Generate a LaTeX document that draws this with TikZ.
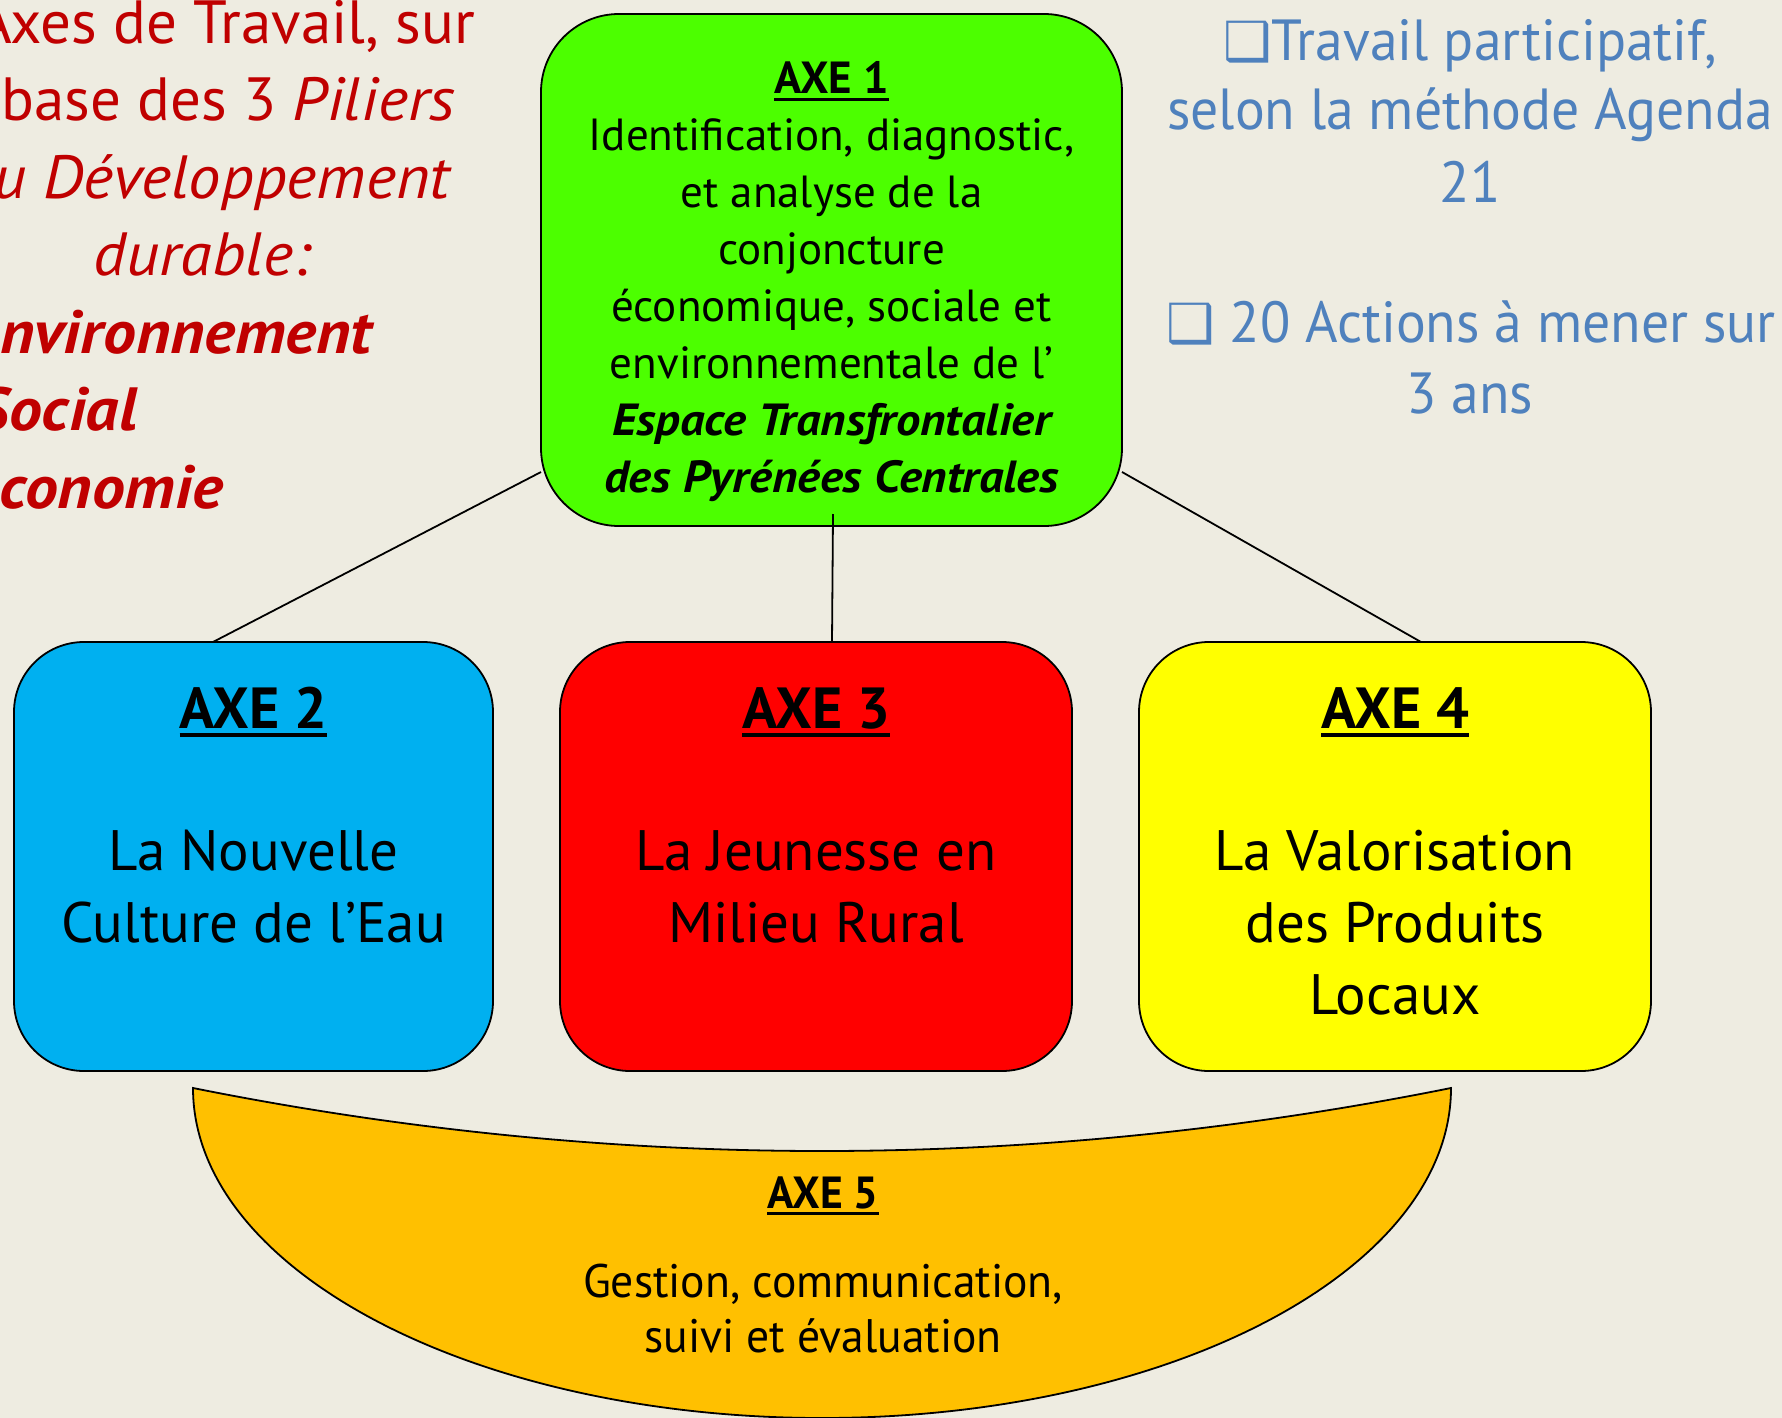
\documentclass[tikz,border=0pt]{standalone}
\usepackage{fontspec}
\setmainfont{PT Sans}[ItalicFeatures={FakeStretch=1.06}, BoldItalicFeatures={FakeStretch=1.08}]
\newfontfamily\bluefont{PT Sans}[FakeStretch=0.96]
\newfontfamily\bowlfont{PT Sans}[FakeStretch=0.97]
\newfontfamily\symfont{DejaVu Sans}
\definecolor{bgc}{HTML}{EEECE1}
\definecolor{greenbox}{HTML}{4CFF00}
\definecolor{bluebox}{HTML}{00B0F0}
\definecolor{redbox}{HTML}{FF0000}
\definecolor{yellowbox}{HTML}{FFFF00}
\definecolor{orangebox}{HTML}{FFC000}
\definecolor{darkred}{HTML}{C00000}
\definecolor{bluetext}{HTML}{4F81BD}
\newcommand\ulbox[1]{\setbox0=\hbox{#1}\rlap{\rule[-0.16em]{\wd0}{0.07em}}\box0}
\begin{document}
\begin{tikzpicture}[x=1pt,y=-1pt,
  axbox/.style={draw=black, line width=1.8pt, inner sep=0pt, outer sep=0pt, rounded corners=70pt},
  txt/.style={inner sep=0pt, outer sep=0pt, anchor=base, text=black},
  conn/.style={draw=black, line width=1.8pt},
  redtxt/.style={inner sep=0pt, outer sep=0pt, text=darkred, font=\fontsize{61}{77}\selectfont},
  bluetxt/.style={inner sep=0pt, outer sep=0pt, anchor=base, text=bluetext, font=\bluefont\fontsize{58}{70}\selectfont},
  bodyA/.style={txt, font=\fontsize{45}{57}\selectfont},
  bodyB/.style={txt, font=\fontsize{57}{72}\selectfont},
  titleB/.style={txt, font=\bfseries\fontsize{58}{70}\selectfont}]
\fill[bgc] (0,0) rectangle (1782,1418);
\useasboundingbox (0,0) rectangle (1782,1418);

% AXE 5 bowl
\filldraw[fill=orangebox, draw=black, line width=1.8pt]
  (193,1088) .. controls (612,1172) and (1032,1172) .. (1451,1088)
  .. controls (1451,1270.3) and (1169.4,1418) .. (822,1418)
  .. controls (474.6,1418) and (193,1270.3) .. (193,1088) -- cycle;
\node[txt, font=\bowlfont\bfseries\fontsize{45}{55}\selectfont] (t5) at (823,1208) {\ulbox{AXE 5}};
\node[txt, font=\bowlfont\fontsize{47}{55}\selectfont] (t5a) at (823,1297) {Gestion, communication,};
\node[txt, font=\bowlfont\fontsize{47}{55}\selectfont] (t5b) at (823,1352) {suivi et évaluation};

% boxes
\node[axbox, fill=greenbox, rounded corners=78pt, minimum width=581pt, minimum height=512pt] (ax1) at (831.5,270) {};
\node[axbox, fill=bluebox, minimum width=479pt, minimum height=429pt] (ax2) at (253.5,856.5) {};
\node[axbox, fill=redbox, minimum width=512pt, minimum height=429pt] (ax3) at (816,856.5) {};
\node[axbox, fill=yellowbox, minimum width=512pt, minimum height=429pt] (ax4) at (1395,856.5) {};

% connectors
\draw[conn] ([yshift=-202pt]ax1.west) -- ([xshift=-40.5pt]ax2.north);
\draw[conn] ([xshift=1.5pt,yshift=12pt]ax1.south) -- ([xshift=16pt]ax3.north);
\draw[conn] ([yshift=-202pt]ax1.east) -- ([xshift=26pt]ax4.north);

% AXE 1 text
\node[txt, font=\bfseries\fontsize{45}{57}\selectfont] (t1) at (831.5,94) {\ulbox{AXE 1}};
\node[bodyA] (t1a) at (831.5,150) {Identification, diagnostic,};
\node[bodyA] (t1b) at (831.5,207) {et analyse de la};
\node[bodyA] (t1c) at (831.5,264) {conjoncture};
\node[bodyA] (t1d) at (831.5,321) {économique, sociale et};
\node[bodyA] (t1e) at (831.5,378) {environnementale de l’};
\node[bodyA] (t1f) at (831.5,435) {\bfseries\itshape Espace Transfrontalier};
\node[bodyA] (t1g) at (831.5,492) {\bfseries\itshape des Pyrénées Centrales};

% AXE 2
\node[titleB] (t2) at (253.5,728) {\ulbox{AXE 2}};
\node[bodyB] (t2a) at (253.5,870) {La Nouvelle};
\node[bodyB] (t2b) at (253.5,942) {Culture de l’Eau};
% AXE 3
\node[titleB] (t3) at (816,728) {\ulbox{AXE 3}};
\node[bodyB] (t3a) at (816,870) {La Jeunesse en};
\node[bodyB] (t3b) at (816,942) {Milieu Rural};
% AXE 4
\node[titleB] (t4) at (1395,728) {\ulbox{AXE 4}};
\node[bodyB] (t4a) at (1395,870) {La Valorisation};
\node[bodyB] (t4b) at (1395,942) {des Produits};
\node[bodyB] (t4c) at (1395,1014) {Locaux};

% left red text
\node[redtxt, anchor=base east] (r1) at (475,44) {Axes de Travail, sur};
\node[redtxt, anchor=base east] (r2) at (455,120.5) {base des 3 \textit{Piliers}};
\node[redtxt, anchor=base east] (r3) at (450,198) {\itshape u Développement};
\node[redtxt, anchor=base] (r4) at (202,275.5) {\itshape durable:};
\node[redtxt, anchor=base east] (r5) at (372,353) {\bfseries\itshape nvironnement};
\node[redtxt, anchor=base east] (r6) at (137,430) {\bfseries\itshape Social};
\node[redtxt, anchor=base east] (r7) at (223,508) {\bfseries\itshape conomie};

% right blue text
\node[bluetxt] (b1) at (1470,61) {{\symfont\fontsize{54}{60}\selectfont ❑}Travail participatif,};
\node[bluetxt] (b2) at (1470,130) {selon la méthode Agenda};
\node[bluetxt] (b3) at (1470,202) {21};
\node[bluetxt] (b4) at (1471,342) {{\symfont\fontsize{54}{60}\selectfont ❑} 20 Actions à mener sur};
\node[bluetxt] (b5) at (1470,413) {3 ans};
\end{tikzpicture}
\end{document}
